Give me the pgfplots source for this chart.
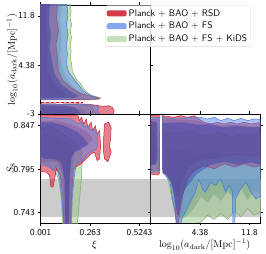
\documentclass[border=0pt]{standalone}
\usepackage{pgfplots}
\pgfplotsset{compat=1.18}
\definecolor{redc}{RGB}{205,25,45}
\definecolor{bluec}{RGB}{85,135,235}
\definecolor{greenc}{RGB}{150,200,130}
\definecolor{redin}{RGB}{160,10,35}
\definecolor{bluein}{RGB}{40,55,170}
\definecolor{greenin}{RGB}{80,140,110}
\pgfplotsset{
  panel/.style={scale only axis, width=110bp, height=109bp,
    tick pos=both, tick align=outside, major tick length=2.5bp,
    tick style={black, line width=0.5pt}, axis line style={line width=0.6pt},
    tick label style={font=\sffamily\fontsize{9}{10}\selectfont},
    label style={font=\fontsize{10}{12}\selectfont}},
  ro/.style={fill=redc, fill opacity=0.55, draw=redc, line width=0.5pt},
  bo/.style={fill=bluec, fill opacity=0.5, draw=bluec!90!black, line width=0.5pt},
  go/.style={fill=greenc, fill opacity=0.5, draw=greenc!85!black, line width=0.5pt},
  ri/.style={fill=redin, fill opacity=0.3, draw=none},
  bi/.style={fill=bluein, fill opacity=0.4, draw=none},
  gi/.style={fill=greenin, fill opacity=0.3, draw=none},
}
\begin{document}
\begin{tikzpicture}
\useasboundingbox (0,0) rectangle (266bp,254bp);
% ---------------- top-left: xi vs log10 a_dark
\begin{axis}[panel, at={(40.7bp,140bp)}, anchor=south west,
  xmin=0.001, xmax=0.5835, ymin=-3, ymax=13.46,
  xtick={0.001,0.263,0.5243}, xticklabels={},
  ytick={-3,4.38,11.8}, yticklabels={-3,4.38,11.8},
  ylabel={$\log_{10}(a_{\rm dark}/[\mathrm{Mpc}]^{-1})$},
  ylabel style={at={(axis description cs:-0.26,0.5)}, anchor=center},
  legend style={at={(axis description cs:0.585,0.995)}, anchor=north west,
    draw=gray!30, fill=white, fill opacity=0.85, text opacity=1,
    rounded corners=2pt, font=\sffamily\fontsize{9.5}{11}\selectfont,
    row sep=0.6pt, inner sep=1.5pt},
  legend image code/.code={\fill[#1] (0bp,-3bp) rectangle (20bp,3bp);},
  legend cell align=left]
\addlegendimage{fill=redc, draw=none}
\addlegendentry{Planck + BAO + RSD}
\addlegendimage{fill=bluec!85!white, draw=none}
\addlegendentry{Planck + BAO + FS}
\addlegendimage{fill=greenc!65!white, draw=none}
\addlegendentry{Planck + BAO + FS + KiDS}
% main region: green first
\addplot[go, forget plot] coordinates {(0.001,13.6)(0.158,13.6)(0.162,12.5)(0.156,11.5)(0.165,10.5)(0.158,9.5)(0.164,8.5)(0.157,7.5)(0.162,6.5)(0.158,5.5)(0.165,4.5)(0.168,3.5)(0.182,2.6)(0.195,2.1)(0.209,1.7)(0.222,1.1)(0.235,0.6)(0.25,0.2)(0.267,-0.13)(0.29,-0.35)(0.32,-0.55)(0.31,-0.75)(0.27,-0.85)(0.001,-0.85)} -- cycle;
\addplot[gi, forget plot] coordinates {(0.001,13.6)(0.11,13.6)(0.105,11)(0.112,8)(0.105,6)(0.115,4)(0.135,2.5)(0.17,1.2)(0.21,0.2)(0.24,-0.3)(0.2,-0.6)(0.001,-0.65)} -- cycle;
\addplot[ro, forget plot] coordinates {(0.001,13.6)(0.09,13.6)(0.085,11.5)(0.095,9.5)(0.082,7.5)(0.09,5.5)(0.095,3.5)(0.12,2)(0.16,1)(0.2,0.3)(0.25,-0.2)(0.3,-0.5)(0.31,-0.7)(0.25,-0.8)(0.001,-0.85)} -- cycle;
\addplot[ri, forget plot] coordinates {(0.001,13.6)(0.035,13.6)(0.03,10)(0.04,7)(0.035,4)(0.06,2)(0.1,0.8)(0.14,-0.1)(0.12,-0.5)(0.001,-0.6)} -- cycle;
\addplot[bo, forget plot] coordinates {(0.001,13.6)(0.14,13.6)(0.145,12)(0.138,10.5)(0.146,9)(0.137,7.5)(0.142,6)(0.138,4.5)(0.15,3.3)(0.17,2.5)(0.19,1.8)(0.205,1.3)(0.225,0.5)(0.25,0)(0.28,-0.35)(0.3,-0.55)(0.29,-0.75)(0.001,-0.8)} -- cycle;
\addplot[bi, forget plot] coordinates {(0.001,13.6)(0.05,13.6)(0.045,11)(0.055,9)(0.048,7)(0.06,5)(0.075,3)(0.11,1.5)(0.16,0.4)(0.2,-0.3)(0.18,-0.6)(0.001,-0.65)} -- cycle;
% thin strip
\addplot[fill=redc, fill opacity=0.25, draw=redc, densely dashed, line width=0.4pt, forget plot] coordinates {(0.001,-1.25)(0.22,-1.25)(0.22,-1.15)(0.001,-1.15)} -- cycle;
% low a_dark band
\addplot[go, forget plot] coordinates {(0.001,-3.2)(0.001,-1.55)(0.2,-1.6)(0.27,-1.8)(0.28,-2.3)(0.3,-3.2)} -- cycle;
\addplot[gi, forget plot] coordinates {(0.001,-3.2)(0.001,-1.8)(0.1,-1.9)(0.15,-2.5)(0.16,-3.2)} -- cycle;
\addplot[ro, forget plot] coordinates {(0.001,-3.2)(0.001,-1.45)(0.1,-1.5)(0.2,-1.45)(0.26,-1.55)(0.3,-1.7)(0.33,-1.85)(0.36,-1.75)(0.38,-2.0)(0.39,-2.5)(0.385,-3.2)} -- cycle;
\addplot[ri, forget plot] coordinates {(0.001,-3.2)(0.001,-1.65)(0.15,-1.7)(0.22,-2.2)(0.25,-3.2)} -- cycle;
\addplot[bo, forget plot] coordinates {(0.001,-3.2)(0.001,-1.5)(0.15,-1.55)(0.25,-1.6)(0.29,-1.75)(0.31,-2.0)(0.3,-2.5)(0.32,-3.2)} -- cycle;
\addplot[bi, forget plot] coordinates {(0.001,-3.2)(0.001,-1.7)(0.12,-1.75)(0.18,-2.0)(0.2,-2.5)(0.22,-3.2)} -- cycle;
\end{axis}
% ---------------- bottom-left: xi vs S8
\begin{axis}[panel, at={(40.7bp,31bp)}, anchor=south west,
  xmin=0.001, xmax=0.5835, ymin=0.7307, ymax=0.8608,
  xtick={0.001,0.263,0.5243}, xticklabels={0.001,0.263,0.5243},
  ytick={0.743,0.795,0.847}, yticklabels={0.743,0.795,0.847},
  xlabel={$\xi$}, ylabel={$S_8$},
  xlabel style={at={(axis description cs:0.49,-0.2)}, anchor=center},
  ylabel style={at={(axis description cs:-0.27,0.5)}, anchor=center}]
\addplot[fill=gray!40, draw=none] coordinates {(0,0.7375)(0.6,0.7375)(0.6,0.7838)(0,0.7838)} -- cycle;
\addplot[go] coordinates {(0.001,0.8430)(0.0395,0.8469)(0.092,0.8410)(0.145,0.8330)(0.189,0.8251)(0.216,0.8172)(0.221,0.8033)(0.216,0.7834)(0.207,0.7596)(0.194,0.725)(0.119,0.725)(0.110,0.7596)(0.096,0.7834)(0.0748,0.7933)(0.0395,0.7993)(0.001,0.8033)} -- cycle;
\addplot[gi] coordinates {(0.001,0.8350)(0.057,0.8370)(0.110,0.8310)(0.163,0.8231)(0.180,0.8152)(0.172,0.7913)(0.163,0.7596)(0.158,0.725)(0.127,0.725)(0.124,0.7596)(0.113,0.7913)(0.092,0.8033)(0.0395,0.8092)(0.001,0.8112)} -- cycle;
\addplot[ro] coordinates {(0.001,0.8596)(0.198,0.8588)(0.207,0.8529)(0.216,0.8568)(0.230,0.8489)(0.242,0.8549)(0.251,0.8449)(0.268,0.8509)(0.277,0.8410)(0.290,0.8469)(0.300,0.8370)(0.313,0.8410)(0.318,0.8231)(0.313,0.8072)(0.300,0.8052)(0.286,0.8152)(0.268,0.8132)(0.251,0.8092)(0.233,0.8052)(0.216,0.8013)(0.198,0.7993)(0.175,0.7953)(0.165,0.7636)(0.158,0.725)(0.125,0.725)(0.118,0.7636)(0.105,0.7874)(0.084,0.7953)(0.075,0.7834)(0.066,0.7735)(0.054,0.7747)(0.048,0.7874)(0.031,0.7913)(0.001,0.7921)} -- cycle;
\addplot[ro] coordinates {(0.339,0.8489)(0.360,0.8509)(0.374,0.8449)(0.371,0.8310)(0.365,0.8231)(0.374,0.8152)(0.357,0.8040)(0.339,0.8072)(0.332,0.8191)(0.335,0.8350)} -- cycle;
\addplot[ri] coordinates {(0.001,0.8529)(0.092,0.8529)(0.180,0.8469)(0.251,0.8390)(0.277,0.8310)(0.251,0.8231)(0.198,0.8191)(0.163,0.8112)(0.154,0.7834)(0.150,0.725)(0.133,0.725)(0.127,0.7834)(0.092,0.8033)(0.0395,0.8033)(0.001,0.8033)} -- cycle;
\addplot[bo] coordinates {(0.001,0.8568)(0.092,0.8557)(0.163,0.8549)(0.198,0.8489)(0.216,0.8517)(0.233,0.8449)(0.251,0.8469)(0.268,0.8410)(0.286,0.8430)(0.300,0.8370)(0.304,0.8271)(0.297,0.8191)(0.268,0.8160)(0.247,0.8120)(0.230,0.8072)(0.212,0.8033)(0.189,0.8013)(0.177,0.7834)(0.168,0.7596)(0.163,0.725)(0.124,0.725)(0.113,0.7596)(0.101,0.7834)(0.084,0.7993)(0.066,0.7933)(0.048,0.7973)(0.022,0.7993)(0.001,0.8001)} -- cycle;
\addplot[bi] coordinates {(0.001,0.8509)(0.057,0.8509)(0.127,0.8469)(0.198,0.8390)(0.233,0.8310)(0.251,0.8251)(0.216,0.8191)(0.180,0.8152)(0.163,0.8072)(0.154,0.7834)(0.149,0.725)(0.131,0.725)(0.127,0.7834)(0.110,0.8033)(0.075,0.8072)(0.022,0.8072)(0.001,0.8092)} -- cycle;
\end{axis}
% ---------------- bottom-right: log10 a_dark vs S8
\begin{axis}[panel, at={(150.7bp,31bp)}, anchor=south west,
  xmin=-3, xmax=13.46, ymin=0.7307, ymax=0.8608,
  xtick={-3,4.38,11.8}, xticklabels={,4.38,11.8},
  ytick={0.743,0.795,0.847}, yticklabels={},
  xlabel={$\log_{10}(a_{\rm dark}/[\mathrm{Mpc}]^{-1})$},
  xlabel style={at={(axis description cs:0.49,-0.2)}, anchor=center}]
\addplot[fill=gray!40, draw=none] coordinates {(-4,0.7375)(14,0.7375)(14,0.7838)(-4,0.7838)} -- cycle;
% strip
\addplot[go] coordinates {(-3.2,0.85)(-1.9,0.85)(-1.85,0.80)(-2.0,0.7933)(-3.2,0.7933)} -- cycle;
\addplot[gi] coordinates {(-3.2,0.84)(-2.3,0.84)(-2.3,0.80)(-3.2,0.80)} -- cycle;
\addplot[ro] coordinates {(-3.2,0.8588)(-1.70,0.8588)(-1.65,0.8)(-1.72,0.7893)(-2.0,0.7880)(-3.2,0.7893)} -- cycle;
\addplot[ri] coordinates {(-3.2,0.855)(-2.0,0.855)(-1.9,0.805)(-3.2,0.80)} -- cycle;
\addplot[bo] coordinates {(-3.2,0.8568)(-1.8,0.8568)(-1.75,0.80)(-1.85,0.7913)(-3.2,0.7913)} -- cycle;
\addplot[bi] coordinates {(-3.2,0.852)(-2.1,0.852)(-2.0,0.81)(-2.2,0.80)(-3.2,0.80)} -- cycle;
% main
\addplot[go] coordinates {(-1.0,0.8390)(1,0.8370)(3,0.8410)(5,0.8350)(7,0.8390)(9,0.8330)(11,0.8370)(13.6,0.8350)(13.6,0.745)(12.5,0.74)(11.5,0.748)(10.5,0.738)(9.5,0.745)(8.5,0.735)(7.5,0.742)(6.5,0.735)(5.5,0.74)(4.5,0.732)(3.5,0.728)(2.5,0.725)(0.92,0.725)(0.67,0.74)(0.17,0.76)(-0.34,0.78)(-0.84,0.7913)(-1.0,0.80)} -- cycle;
\addplot[gi] coordinates {(-0.8,0.82)(2,0.818)(4,0.813)(6,0.815)(8,0.811)(10,0.814)(13.6,0.812)(13.6,0.765)(12.5,0.77)(11.5,0.758)(10.5,0.772)(9.5,0.76)(8.5,0.768)(7.5,0.757)(6.5,0.765)(5.5,0.755)(4.5,0.762)(3.5,0.748)(2.5,0.74)(1.5,0.735)(1.0,0.74)(0.5,0.76)(-0.3,0.785)(-0.8,0.795)} -- cycle;
\addplot[ro] coordinates {(-1.24,0.8588)(0.5,0.8568)(1.5,0.8588)(2.5,0.8568)(3.5,0.8588)(4.2,0.8549)(5,0.8509)(6,0.8489)(7,0.8509)(8,0.8489)(9,0.8509)(10,0.8489)(11,0.8509)(12,0.8489)(13.6,0.8509)(13.6,0.800)(12.5,0.7973)(11,0.8013)(9.5,0.7973)(8,0.8013)(6.5,0.7953)(5,0.7993)(3.5,0.7933)(2.5,0.7834)(1.8,0.7636)(1.3,0.74)(1.1,0.725)(0.85,0.725)(0.6,0.76)(0.2,0.78)(-0.6,0.7893)(-1.1,0.7913)(-1.24,0.80)} -- cycle;
\addplot[ri] coordinates {(-1.24,0.855)(4,0.853)(6,0.846)(9,0.848)(13.6,0.845)(13.6,0.81)(10,0.812)(7,0.808)(4,0.805)(2.5,0.795)(1.5,0.775)(1.1,0.76)(0.8,0.765)(0,0.785)(-1.24,0.79)} -- cycle;
\addplot[bo] coordinates {(-1.24,0.8568)(1,0.8549)(3,0.8568)(4.5,0.8568)(5.5,0.8549)(6.5,0.8568)(7.5,0.8529)(8.5,0.8558)(9.5,0.8529)(10.5,0.8558)(11.5,0.8529)(12.5,0.8549)(13.6,0.8540)(13.6,0.7636)(12.75,0.7596)(12.0,0.7675)(11.24,0.7794)(10.48,0.7715)(9.73,0.7596)(9.53,0.72)(9.33,0.72)(9.22,0.7675)(8.72,0.7755)(8.22,0.7675)(7.46,0.7834)(6.71,0.7755)(5.95,0.7794)(5.20,0.7675)(4.70,0.7715)(4.19,0.7834)(3.69,0.7675)(3.19,0.7596)(2.68,0.7517)(2.18,0.7437)(1.67,0.7358)(1.42,0.725)(1.0,0.725)(0.67,0.7437)(0.17,0.7636)(-0.09,0.7794)(-0.59,0.7893)(-0.84,0.7913)(-1.24,0.7953)} -- cycle;
\addplot[bi] coordinates {(-1.24,0.850)(2,0.8509)(4,0.848)(6,0.8489)(8,0.845)(10,0.8469)(12,0.845)(13.6,0.846)(13.6,0.80)(12,0.803)(10,0.80)(8,0.804)(6,0.80)(4,0.79)(3,0.78)(2,0.77)(1.5,0.755)(1.2,0.74)(1.0,0.74)(0.5,0.765)(0,0.78)(-1.24,0.79)} -- cycle;
\end{axis}
\end{tikzpicture}
\end{document}
